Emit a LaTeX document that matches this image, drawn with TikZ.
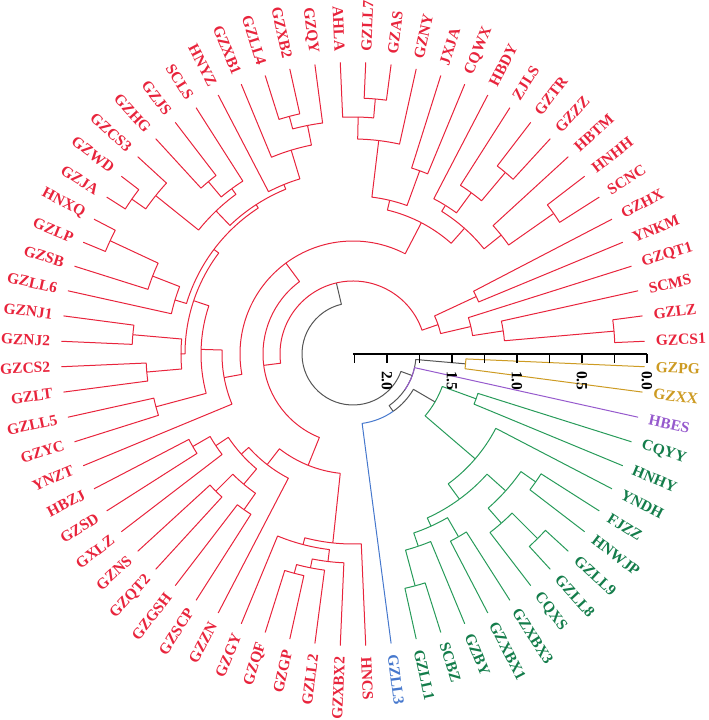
\documentclass[tikz,border=0pt]{standalone}
\usepackage{fontspec}
\setmainfont{Liberation Serif}
\usepackage{tikz}
\definecolor{treered}{RGB}{232,36,60}
\definecolor{treegreen}{RGB}{40,155,90}
\definecolor{labgreen}{RGB}{20,125,75}
\definecolor{treeblue}{RGB}{70,120,205}
\definecolor{treepurple}{RGB}{150,90,205}
\definecolor{treegold}{RGB}{205,155,35}
\definecolor{treegray}{RGB}{85,85,85}
\tikzstyle{every node}=[font=\fontsize{15.5}{16}\selectfont\bfseries]
\tikzstyle{leaflab}=[inner sep=1pt]
\tikzstyle{scalelab}=[inner sep=1pt,text=black]
\tikzstyle{rbranch}=[draw=treered,line width=1pt]
\tikzstyle{gbranch}=[draw=treegreen,line width=1pt]
\tikzstyle{kbranch}=[draw=treegray,line width=1pt]
\tikzstyle{bbranch}=[draw=treeblue,line width=1pt]
\tikzstyle{pbranch}=[draw=treepurple,line width=1pt]
\tikzstyle{ybranch}=[draw=treegold,line width=1pt]
\tikzstyle{axisline}=[draw=black,line width=1.2pt]
% parent radius, parent angle, child radius, child angle
\newcommand{\branch}[5][rbranch]{\draw[#1] (#3:#2pt) arc[start angle=#3,end angle=#5,radius=#2pt] -- (#5:#4pt);}
\newcommand{\leaflabel}[3]{%
  \pgfmathtruncatemacro{\flip}{(#1>90 && #1<270) ? 1 : 0}%
  \ifnum\flip=1
    \node[leaflab,text=#3,rotate=#1+180,anchor=east] (#2) at (#1:302pt) {#2};
  \else
    \node[leaflab,text=#3,rotate=#1,anchor=west] (#2) at (#1:302pt) {#2};
  \fi}

\begin{document}
\begin{tikzpicture}[x=1pt,y=1pt,line join=round]
\useasboundingbox (-353,-366) rectangle (356,354);

% root and the small clades
\foreach \rp/\cp/\rc/\cc in {51/221.5/73/103.16, 51/221.5/63/340, 63/325/70/305,
  63/325/113/355, 70/305/95/329.69}
  {\branch[kbranch]{\rp}{\cp}{\rc}{\cc}}
\branch[bbranch]{70}{305}{292}{277.5}
\branch[pbranch]{63}{325}{292}{347.5}
\branch[ybranch]{113}{355}{292}{352.5}
\branch[ybranch]{113}{355}{292}{357.5}

% green clade
\foreach \rp/\cp/\rc/\cc in {95/329.69/161/319.375, 95/329.69/131/340,
  131/340/292/337.5, 131/340/292/342.5,
  161/319.375/180/306.25, 161/319.375/292/332.5,
  180/306.25/189/294.375, 180/306.25/205/318.125,
  189/294.375/203/288.75, 189/294.375/211/300,
  203/288.75/240/285, 203/288.75/292/292.5,
  240/285/292/282.5, 240/285/292/287.5,
  211/300/292/297.5, 211/300/292/302.5,
  205/318.125/225/311.25, 205/318.125/223/325,
  225/311.25/292/307.5, 225/311.25/261/315,
  261/315/292/312.5, 261/315/292/317.5,
  223/325/292/322.5, 223/325/292/327.5}
  {\branch[gbranch]{\rp}{\cp}{\rc}{\cc}}

% red clade
\foreach \rp/\cp/\rc/\cc in {73/103.16/90/19.06, 73/103.16/90/187.25,
  90/19.06/121/13.125, 90/19.06/136/25,
  121/13.125/152/8.75, 121/13.125/292/17.5,
  152/8.75/262/5, 152/8.75/292/12.5,
  262/5/292/2.5, 262/5/292/7.5,
  136/25/292/22.5, 136/25/292/27.5,
  90/187.25/113/126.44, 90/187.25/120/248.05,
  113/126.44/148/62.5, 113/126.44/131/190.38,
  148/62.5/168/48.44, 148/62.5/158/76.56,
  168/48.44/190/38.75, 168/48.44/175/58.125,
  190/38.75/245/35, 190/38.75/292/42.5,
  245/35/292/32.5, 245/35/292/37.5,
  175/58.125/200/53.75, 175/58.125/292/62.5,
  200/53.75/237/50, 200/53.75/292/57.5,
  237/50/292/47.5, 237/50/292/52.5,
  158/76.56/195/70, 158/76.56/215/83.125,
  195/70/292/67.5, 195/70/292/72.5,
  215/83.125/292/77.5, 215/83.125/237/88.75,
  237/88.75/256/85, 237/88.75/292/92.5,
  256/85/292/82.5, 256/85/292/87.5,
  131/190.38/152/178.26, 131/190.38/292/202.5,
  152/178.26/168/161.5, 152/178.26/204/195,
  204/195/292/192.5, 204/195/292/197.5,
  168/161.5/174/143.05, 168/161.5/172/180,
  172/180/221/175, 172/180/207/185,
  221/175/292/172.5, 221/175/292/177.5,
  207/185/292/182.5, 207/185/292/187.5,
  174/143.05/178/122.97, 174/143.05/186/163.125,
  178/122.97/183/112.19, 178/122.97/198/133.75,
  183/112.19/213/106.875, 183/112.19/292/117.5,
  213/106.875/233/101.25, 213/106.875/292/112.5,
  233/101.25/292/97.5, 233/101.25/246/105,
  246/105/292/102.5, 246/105/292/107.5,
  198/133.75/205/126.25, 198/133.75/253/141.25,
  205/126.25/292/122.5, 205/126.25/225/130,
  225/130/292/127.5, 225/130/292/132.5,
  253/141.25/292/137.5, 253/141.25/270/145,
  270/145/292/142.5, 270/145/292/147.5,
  186/163.125/215/158.75, 186/163.125/292/167.5,
  215/158.75/268/155, 215/158.75/292/162.5,
  268/155/292/152.5, 268/155/292/157.5,
  120/248.05/140/232.19, 120/248.05/190/263.9,
  140/232.19/150/221.875, 140/232.19/292/242.5,
  150/221.875/165/213.75, 150/221.875/170/230,
  165/213.75/185/210, 165/213.75/292/217.5,
  185/210/292/207.5, 185/210/292/212.5,
  170/230/194/225, 170/230/190/235,
  194/225/292/222.5, 194/225/292/227.5,
  190/235/292/232.5, 190/235/292/237.5,
  190/263.9/197/255.31, 190/263.9/292/272.5,
  197/255.31/292/247.5, 197/255.31/209/263.125,
  209/263.125/218/258.75, 209/263.125/292/267.5,
  218/258.75/227/255, 218/258.75/292/262.5,
  227/255/292/252.5, 227/255/292/257.5}
  {\branch{\rp}{\cp}{\rc}{\cc}}

% leaf labels
\foreach \nm [count=\i] in {GZCS1,GZLZ,SCMS,GZQT1,YNKM,GZHX,SCNC,HNHH,HBTM,GZZZ,
  GZTR,ZJLS,HBDY,CQWX,JXJA,GZNY,GZAS,GZLL7,AHLA,GZQY,GZXB2,GZLL4,GZXB1,HNYZ,
  SCLS,GZJS,GZHG,GZCS3,GZWD,GZJA,HNXQ,GZLP,GZSB,GZLL6,GZNJ1,GZNJ2,GZCS2,GZLT,
  GZLL5,GZYC,YNZT,HBZJ,GZSD,GXLZ,GZNS,GZQT2,GZGSH,GZSCP,GZZN,GZGY,GZQF,GZGP,
  GZLL2,GZXBX2,HNCS}
  {\pgfmathsetmacro{\ang}{5*\i-2.5}\leaflabel{\ang}{\nm}{treered}}
\leaflabel{277.5}{GZLL3}{treeblue}
\foreach \nm [count=\i from 57] in {GZLL1,SCBZ,GZBY,GZXBX1,GZXBX3,CQXS,GZLL8,
  GZLL9,HNWJP,FJZZ,YNDH,HNHY,CQYY}
  {\pgfmathsetmacro{\ang}{5*\i-2.5}\leaflabel{\ang}{\nm}{labgreen}}
\leaflabel{347.5}{HBES}{treepurple}
\leaflabel{352.5}{GZXX}{treegold}
\leaflabel{357.5}{GZPG}{treegold}

% scale axis
\draw[axisline] (0,0) -- (294,0);
\foreach \k in {0,...,9}
  \draw[axisline] (294-32.5*\k,0) -- ++(0,-9);
\foreach \v [count=\k from 0] in {0.0,0.5,1.0,1.5,2.0}
  \node[scalelab,rotate=-90,anchor=west] (t\k) at (294-65*\k,-16) {\v};
\end{tikzpicture}
\end{document}
